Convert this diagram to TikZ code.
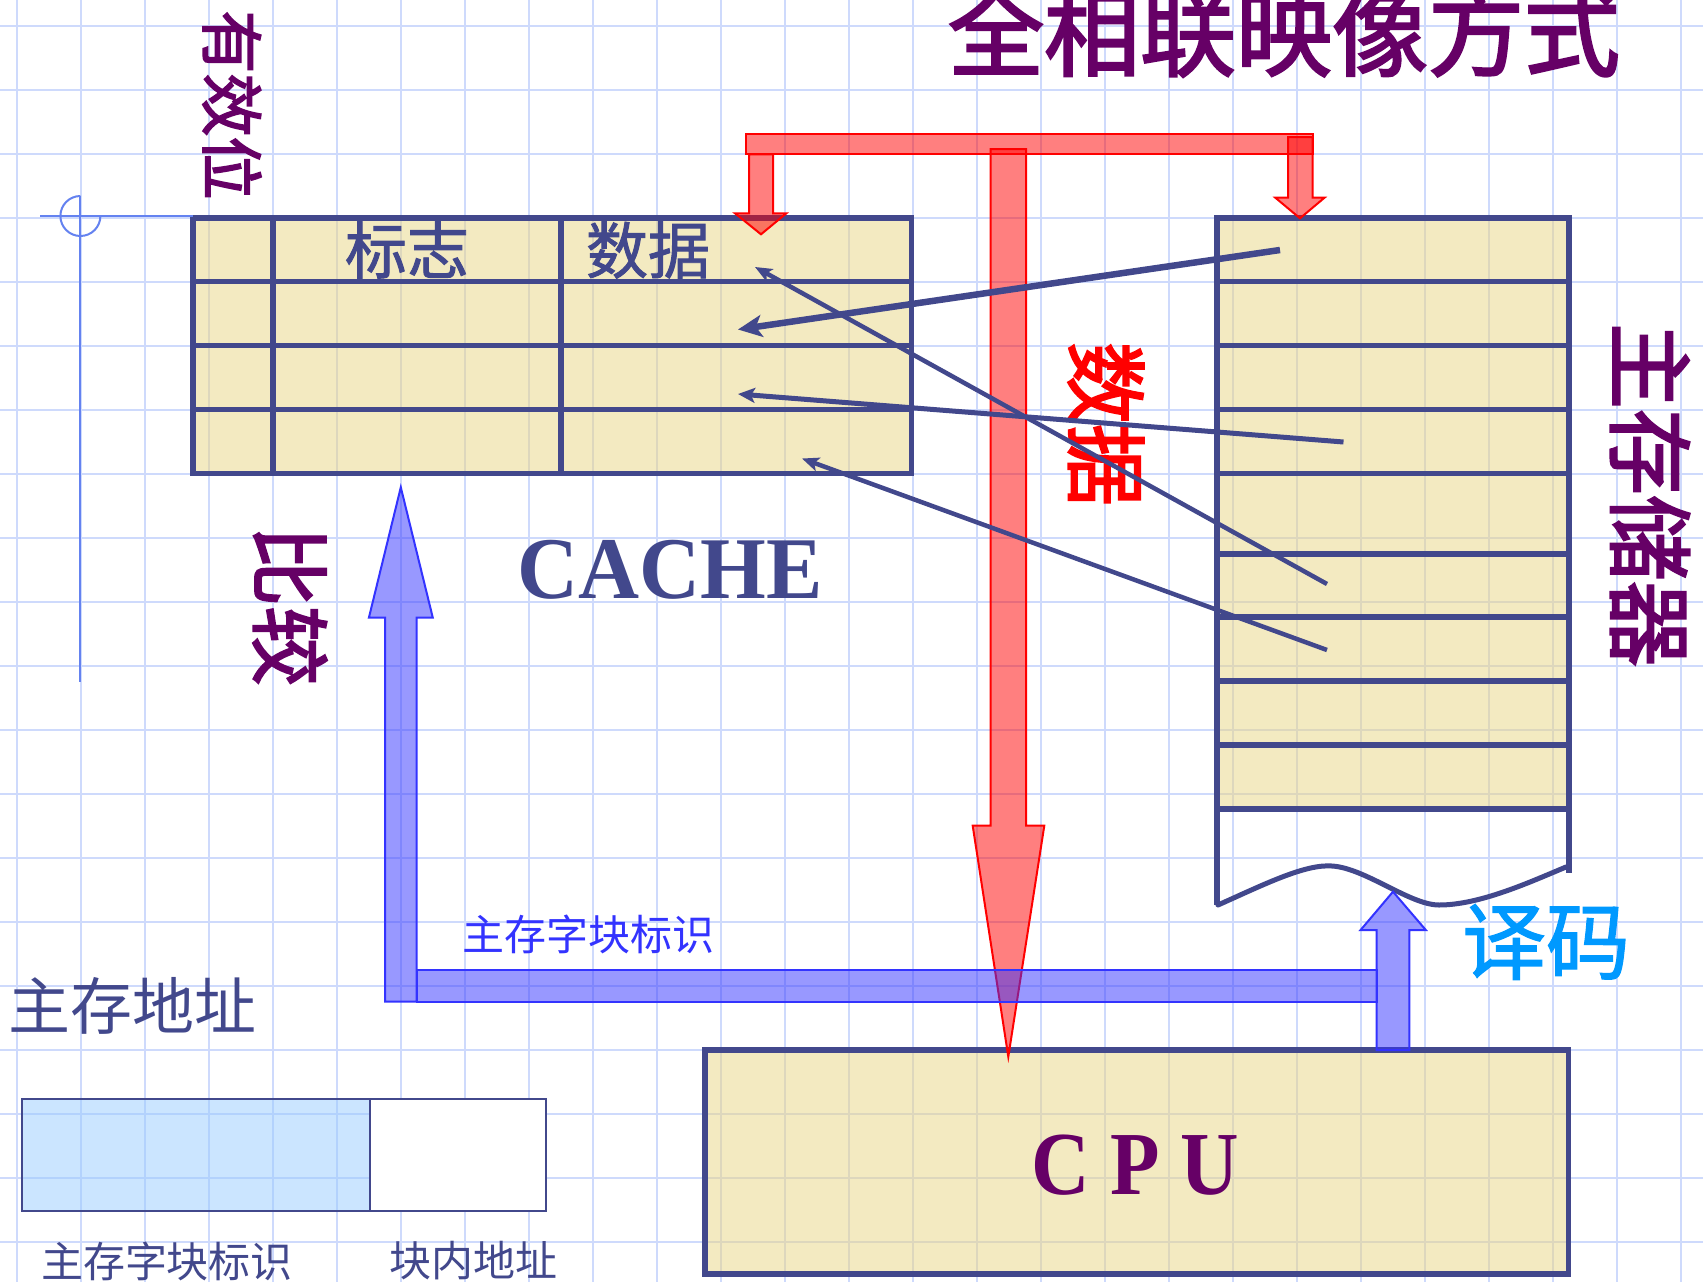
\documentclass[tikz,border=0pt]{standalone}
\usepackage{fontspec}
\setmainfont{Liberation Serif}
\newfontfamily\cjk{Noto Sans CJK SC}
\newfontfamily\cjkheavy{Noto Sans CJK SC}[FakeBold=2.5]
\newfontfamily\cjkmed{Noto Sans CJK SC}[FakeBold=1.5]
\usetikzlibrary{arrows.meta}
\definecolor{dkblue}{RGB}{66,72,140}
\definecolor{purp}{RGB}{102,0,102}
\definecolor{beige}{RGB}{243,234,193}
\definecolor{gridblue}{RGB}{206,218,252}
\definecolor{gridtan}{RGB}{221,215,189}
\definecolor{addrblue}{RGB}{153,204,255}
\definecolor{busblue}{RGB}{51,51,255}
\definecolor{decodecol}{RGB}{0,153,255}
\definecolor{guidecol}{RGB}{100,130,240}
\tikzset{
  cjkfont/.style={font={\cjk\fontsize{#1}{#1}\selectfont}},
  cjkbold/.style={font={\cjkheavy\fontsize{#1}{#1}\selectfont}},
  cjkmedium/.style={font={\cjkmed\fontsize{#1}{#1}\selectfont}},
  txt/.style={inner sep=0pt, outer sep=0pt},
  boxfill/.style={fill=beige, inner sep=0pt, outer sep=0pt},
  tbl/.style={draw=dkblue, line width=5.5pt, line join=miter},
  gridline/.style={draw=gridblue, line width=1.8pt},
  tangrid/.style={draw=gridtan, line width=1.8pt},
  redarrow/.style={fill=red, fill opacity=0.5, draw=red, line width=2pt, line join=miter},
  bluearrow/.style={fill=busblue, fill opacity=0.5, draw=busblue, line width=2pt, line join=miter},
  mapline/.style={draw=dkblue, line width=#1},
  guideline/.style={draw=guidecol, line width=2pt},
}
\begin{document}
\begin{tikzpicture}[x=1pt,y=-1pt]
\useasboundingbox (0,0) rectangle (1703,1282);
\fill[white] (0,0) rectangle (1703,1282);
% background grid
\foreach \i in {0,...,26} \draw[gridline] ({16.7+64*\i},0) -- ({16.7+64*\i},1282);
\foreach \j in {0,...,19} \draw[gridline] (0,{25.7+64*\j}) -- (1703,{25.7+64*\j});

% box fills
\node[boxfill, minimum width=718.6pt, minimum height=255.7pt, anchor=north west] (cache) at (193,218) {};
\node[boxfill, minimum width=352pt, minimum height=591pt, anchor=north west] (mem) at (1217,218) {};
\node[boxfill, minimum width=863.5pt, minimum height=224pt, anchor=north west] (cpu) at (705,1050) {};

% tan grid inside the boxes
\begin{scope}
\clip (193,218) rectangle (911.6,473.7) (1217,218) rectangle (1569,809) (705,1050) rectangle (1568.5,1274);
\foreach \i in {0,...,26} \draw[tangrid] ({16.7+64*\i},0) -- ({16.7+64*\i},1282);
\foreach \j in {0,...,19} \draw[tangrid] (0,{25.7+64*\j}) -- (1703,{25.7+64*\j});
\end{scope}

% cache table lines
\draw[tbl] (cache.north west) rectangle (cache.south east);
\foreach \y in {281.7,345.7,409.7} \draw[tbl] (193,\y) -- (911.6,\y);
\foreach \x in {272.9,561} \draw[tbl] (\x,218) -- (\x,473.7);

% main memory
\draw[tbl] (1217,905) -- (mem.north west) -- (mem.north east) -- (1569,873);
\foreach \y in {281.7,345.7,409.7,473.7,554,617,681,745,809} \draw[tbl] (1217,\y) -- (1569,\y);
\draw[tbl, line width=5pt, line cap=round] (1218,905) .. controls (1265,884) and (1305,864) .. (1332,866)
  .. controls (1365,868) and (1410,905) .. (1439,905)
  .. controls (1480,905) and (1530,882) .. (1566,867);

% CPU border
\draw[tbl] (cpu.north west) rectangle (cpu.south east);

% address format box
\node[fill=addrblue, fill opacity=0.5, draw=dkblue, draw opacity=1, line width=2pt, inner sep=0pt, minimum width=347.8pt, minimum height=112.3pt, anchor=north west] (addrtag) at (21,1097.7) {};
\node[fill=white, draw=dkblue, line width=2pt, inner sep=0pt, minimum width=176.2pt, minimum height=112.3pt, anchor=north west] (addroff) at (368.8,1097.7) {};

% guide lines at left
\coordinate (gh) at (40,216);
\coordinate (gv) at (80.4,682);
\draw[guideline] (gh) -- (cache.west |- gh);
\draw[guideline] (80.4,196) -- (gv);
\draw[guideline] (80.4,196) .. controls (69.35,196) and (60.4,204.95) .. (60.4,216)
  .. controls (60.4,227.05) and (69.35,236) .. (80.4,236)
  .. controls (91.45,236) and (100.4,227.05) .. (100.4,216);

% red arrows
\draw[redarrow] (745.6,133.7) rectangle (1312.6,154.3);
\draw[redarrow] (749,154.3) -- (749,213.3) -- (735,213.3) -- (761,234.3) -- (786.4,213.3) -- (773,213.3) -- (773,154.3) -- cycle;
\draw[redarrow] (1288,137) -- (1288,197.7) -- (1275.3,197.7) -- (1300,218.3) -- (1324.5,197.7) -- (1312.6,197.7) -- (1312.6,137) -- cycle;
\draw[redarrow] (990.7,149) -- (990.7,825.7) -- (972.7,825.7) -- (1008.3,1056.7) -- (1044.3,825.7) -- (1026,825.7) -- (1026,149) -- cycle;

% blue arrows
\draw[bluearrow] (385,1001.7) -- (385,617.7) -- (368.9,617.7) -- (400.8,487.3) -- (432.8,617.7) -- (416.7,617.7) -- (416.7,1001.7) -- cycle;
\draw[bluearrow] (416.7,970) rectangle (1376.5,1001.7);
\draw[bluearrow] (1376.5,1050) -- (1376.5,930) -- (1360.6,930) -- (1393,891.7) -- (1425.8,930) -- (1409.3,930) -- (1409.3,1050) -- cycle;

% texts
\node[txt, cjkbold=96, text=purp] (title) at (1284,32) {全相联映像方式};
\node[txt, cjkbold=63, text=purp, rotate=-90] (valid) at (232,105) {有效位};
\node[txt, cjkmedium=62, text=dkblue] (tag) at (407,250) {标志};
\node[txt, cjkmedium=62, text=dkblue] (data) at (648,250) {数据};
\node[txt, cjkbold=80, text=purp, rotate=-90] (cmp) at (290,606) {比较};
\node[txt, font=\bfseries\fontsize{88}{88}\selectfont, text=dkblue] (cachelbl) at (670,570) {\scalebox{0.96}[1]{CACHE}};
\node[txt, cjkbold=82, text=red, rotate=-90] (datared) at (1106,424) {数据};
\node[txt, cjkbold=86, text=purp, rotate=-90] (memlbl) at (1650,495) {主存储器};
\node[txt, cjkmedium=84, text=decodecol] (decode) at (1546,942) {译码};
\node[txt, cjkfont=42, text=busblue] (buslbl) at (588,934) {主存字块标识};
\node[txt, font=\bfseries\fontsize{90}{90}\selectfont, text=purp] (cpulbl) at (1135,1165) {\scalebox{0.9}[1]{C P U}};
\node[txt, cjkfont=62, text=dkblue] (addrlbl) at (133,1006) {主存地址};
\node[txt, cjkfont=42, text=dkblue] (taglbl) at (167,1261) {主存字块标识};
\node[txt, cjkfont=42, text=dkblue] (offlbl) at (473,1261) {块内地址};

% mapping lines memory -> cache
\coordinate (m1) at (1280,250);   \coordinate (c1) at (738,329.5);
\coordinate (m2) at (1327,584);   \coordinate (c2) at (755,267);
\coordinate (m3) at (1343.5,442); \coordinate (c3) at (738,394);
\coordinate (m4) at (1327,650);   \coordinate (c4) at (802,458.5);
\draw[mapline=6.5pt, -{Stealth[length=24pt,width=22pt,inset=6pt]}] (m1) -- (c1);
\draw[mapline=4.5pt, -{Stealth[length=17pt,width=14pt,inset=4pt]}] (m2) -- (c2);
\draw[mapline=5pt, -{Stealth[length=17pt,width=15pt,inset=4pt]}] (m3) -- (c3);
\draw[mapline=4.5pt, -{Stealth[length=17pt,width=14pt,inset=4pt]}] (m4) -- (c4);
\end{tikzpicture}
\end{document}
